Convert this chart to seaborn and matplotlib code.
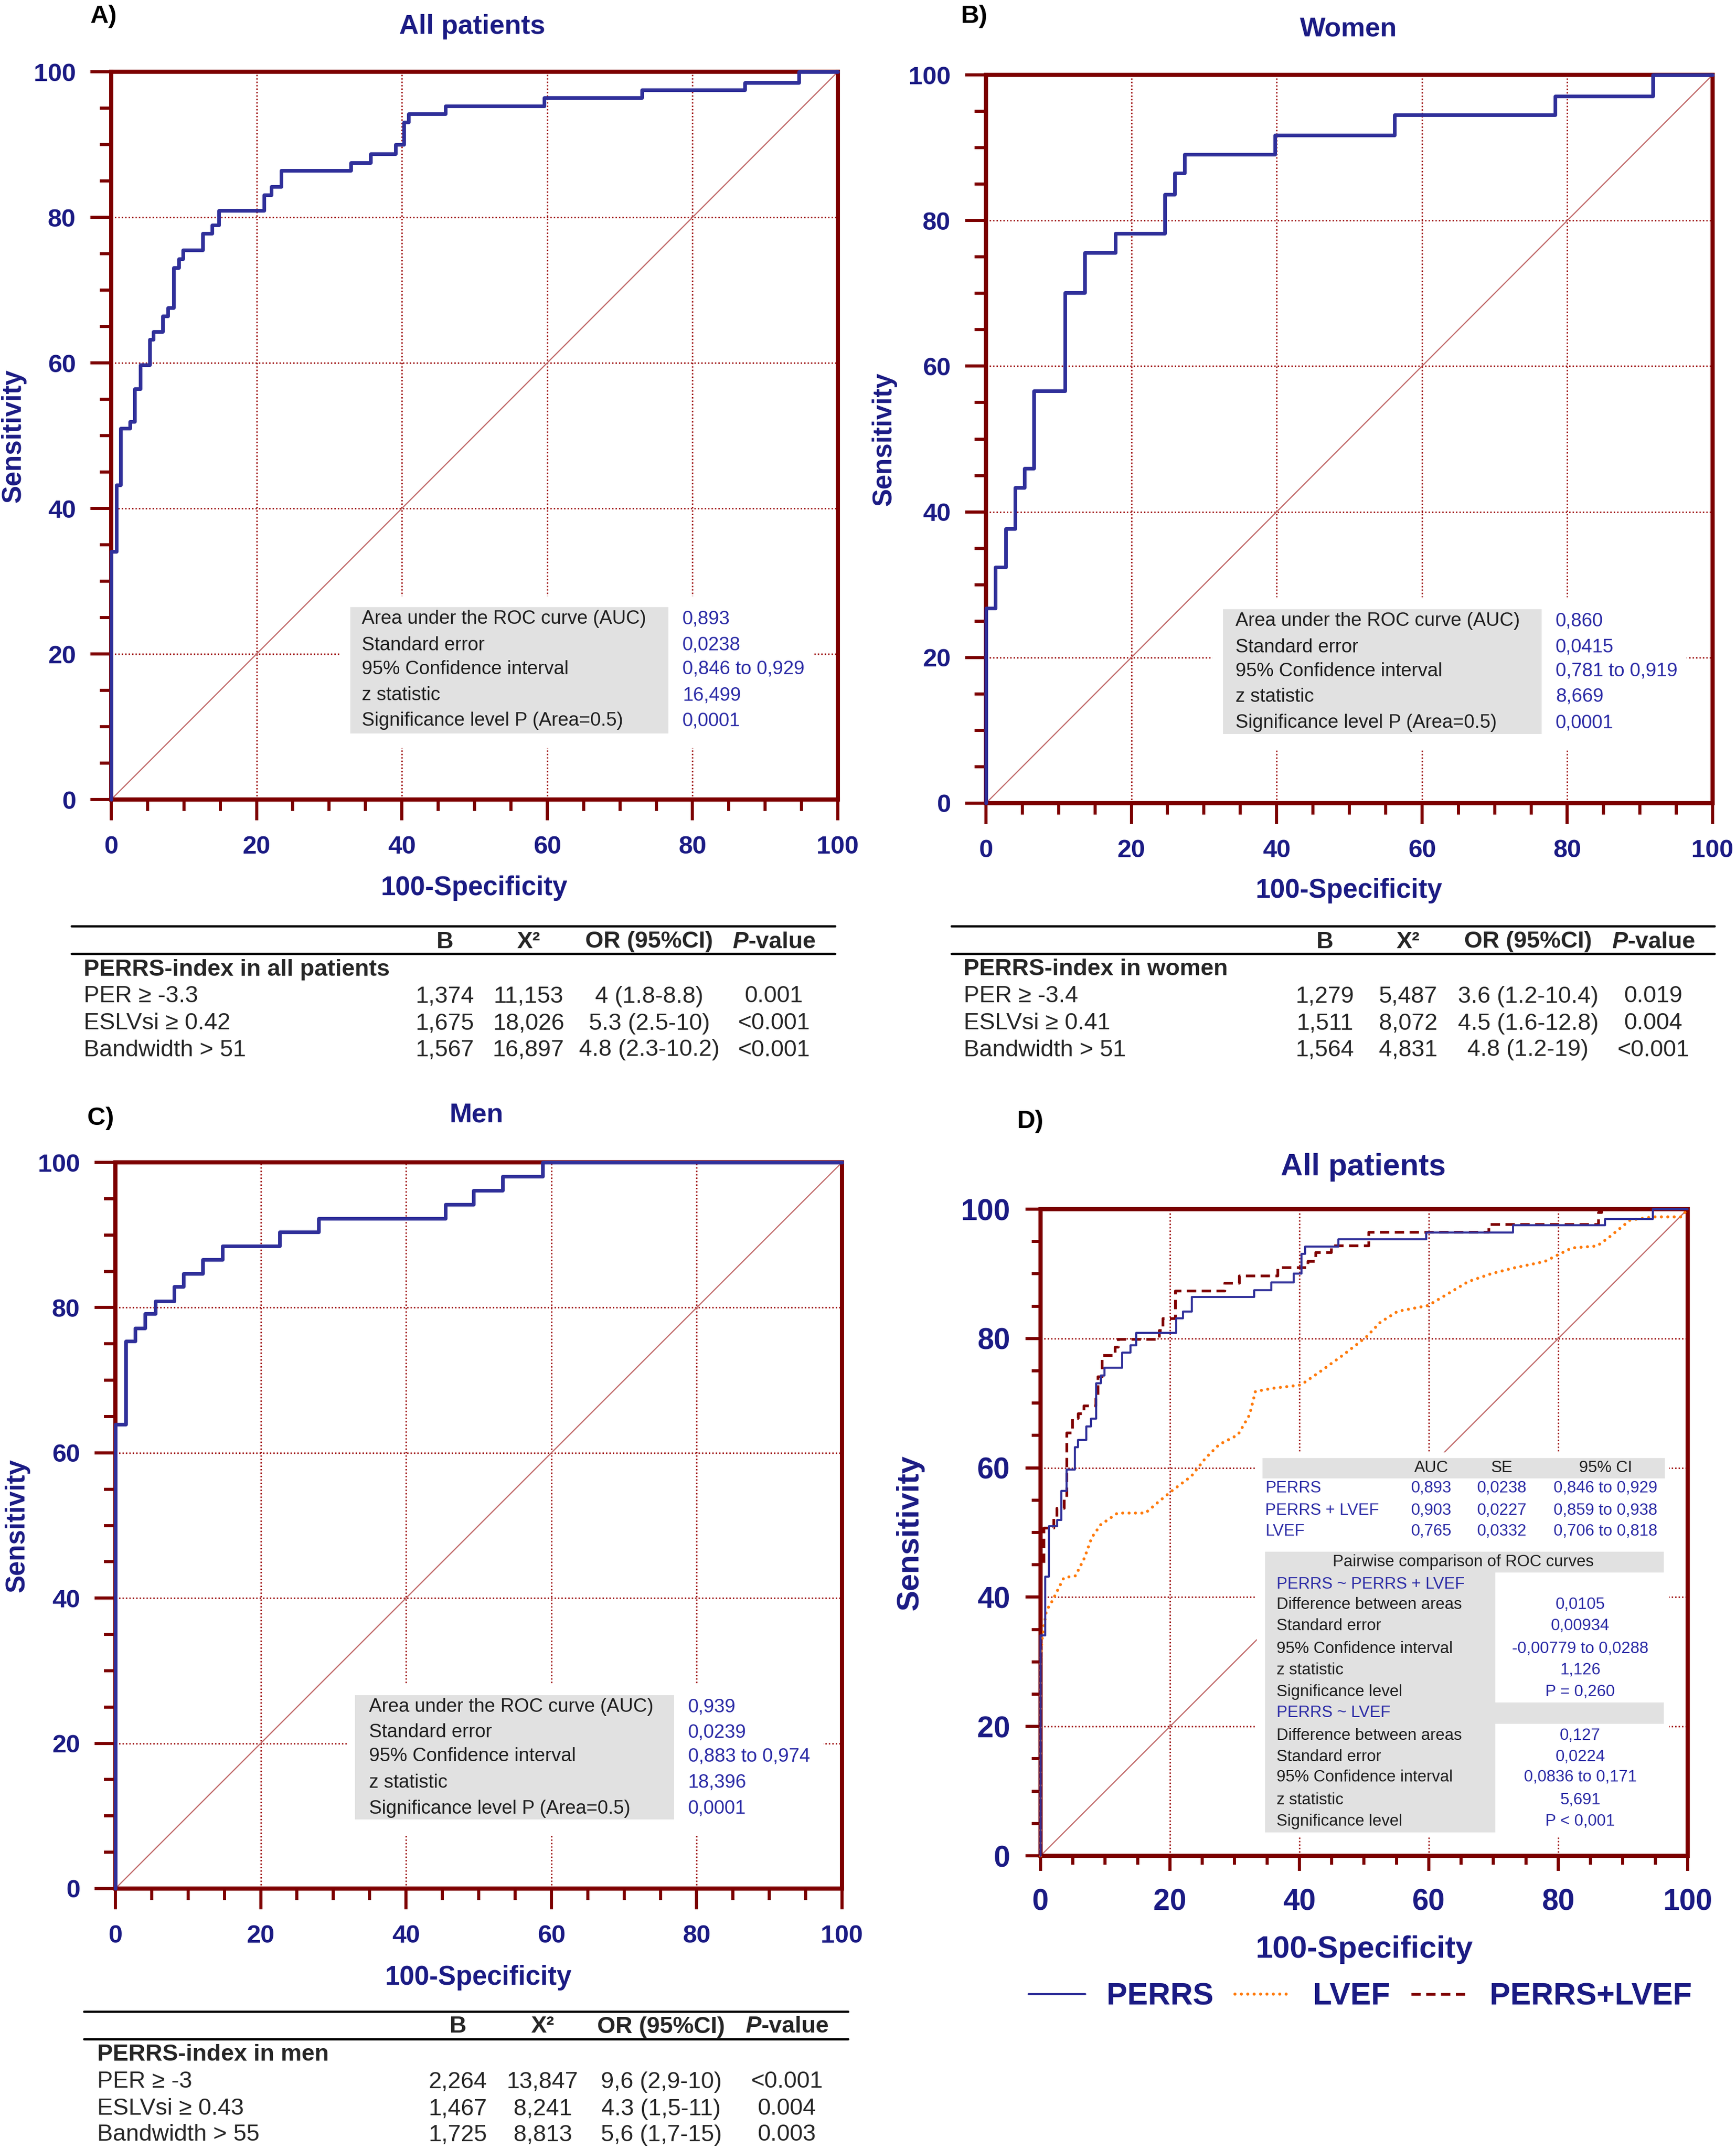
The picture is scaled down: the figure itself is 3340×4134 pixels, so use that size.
import numpy as np
import pandas as pd
import matplotlib
matplotlib.use("Agg")
import matplotlib.pyplot as plt
import seaborn as sns
from matplotlib.patches import Rectangle
from matplotlib.lines import Line2D

# ---------------- data ----------------
ticks_major = [0, 20, 40, 60, 80, 100]
ticks_minor = [0, 5, 10, 15, 20, 25, 30, 35, 40, 45, 50, 55, 60, 65, 70, 75, 80, 85, 90, 95, 100]
chance = [0, 100]

# Panel A - all patients, PERRS ROC (100-Specificity, Sensitivity) step corners
a_fpr = [0, 0, 0.7, 1.3, 2.6, 3.2, 4.0, 5.3, 5.8, 7.1, 7.8, 8.6, 9.3, 9.9, 12.6, 13.9, 14.8,
         21.0, 22.0, 23.4, 33.0, 35.7, 39.1, 40.3, 40.9, 46.0, 59.6, 73.0, 87.2, 94.6, 100]
a_tpr = [0, 34.1, 43.2, 51.0, 51.9, 56.4, 59.7, 63.2, 64.3, 66.4, 67.6, 73.1, 74.3, 75.5, 77.8, 78.9, 80.9,
         83.1, 84.2, 86.4, 87.5, 88.7, 90.0, 93.1, 94.2, 95.3, 96.4, 97.5, 98.5, 100, 100]

# Panel B - women
b_fpr = [0, 0, 1.3, 2.7, 4.0, 5.3, 6.6, 10.9, 13.6, 17.8, 24.6, 26.0, 27.3, 39.8, 56.2, 78.3, 91.8, 100]
b_tpr = [0, 26.8, 32.4, 37.7, 43.3, 46.0, 56.6, 70.1, 75.6, 78.2, 83.6, 86.5, 89.1, 91.7, 94.5, 97.1, 100, 100]

# Panel C - men
c_fpr = [0, 0, 1.4, 2.7, 4.1, 5.5, 8.1, 9.4, 12.0, 14.7, 22.6, 28.0, 45.4, 49.3, 53.3, 58.8, 100]
c_tpr = [0, 63.9, 75.4, 77.2, 79.2, 80.9, 82.9, 84.7, 86.6, 88.5, 90.4, 92.3, 94.2, 96.1, 98.1, 100, 100]

# Panel D - PERRS (same as A), PERRS+LVEF, LVEF
d_combo_fpr = [0, 0, 0.5, 2.0, 2.5, 3.6, 4.0, 4.9, 5.8, 6.7, 8.5, 8.8, 9.5, 11.5, 12.0, 18.3, 18.9,
               20.8, 28.4, 30.7, 36.6, 41.3, 42.5, 44.9, 50.7, 69.2, 86.2, 86.7, 100]
d_combo_tpr = [0, 45.0, 50.7, 52.3, 53.8, 55.3, 65.4, 67.7, 68.4, 69.6, 70.7, 74.1, 77.4, 78.7, 79.9, 81.3, 83.1,
               87.4, 88.6, 89.7, 91.0, 92.0, 93.3, 94.4, 96.5, 97.7, 99.5, 100, 100]
d_lvef_fpr = [0, 0, 0.2, 0.9, 1.8, 3.6, 5.4, 6.8, 7.9, 9.3, 11.9, 16.2, 18.3, 20.5, 23.3, 25.5, 27.6,
              30.5, 32.3, 33.2, 35.9, 40.2, 43.1, 46.7, 50.3, 52.5, 55.2, 59.9, 63.1, 66.1, 69.6, 73.1,
              77.9, 80.3, 82.1, 86.0, 87.8, 91.1, 94.6, 99.0, 100]
d_lvef_tpr = [0, 30.0, 33.3, 37.9, 39.4, 43.0, 43.3, 46.1, 49.2, 51.2, 53.0, 53.0, 54.8, 56.6, 58.7, 61.5, 63.6,
              65.1, 68.2, 71.8, 72.3, 72.8, 74.8, 77.4, 80.2, 82.5, 84.2, 85.1, 87.0, 88.8, 90.0, 90.9,
              91.9, 93.1, 94.0, 94.3, 95.6, 98.3, 98.8, 98.8, 100]
d_legend = ["PERRS", "LVEF", "PERRS+LVEF"]

panel_titles = ["All patients", "Women", "Men", "All patients"]
panel_letters = ["A)", "B)", "C)", "D)"]
x_label = "100-Specificity"
y_label = "Sensitivity"

info_labels = ["Area under the ROC curve (AUC)", "Standard error", "95% Confidence interval",
               "z statistic", "Significance level P (Area=0.5)"]
a_info = ["0,893", "0,0238", "0,846 to 0,929", "16,499", "0,0001"]
b_info = ["0,860", "0,0415", "0,781 to 0,919", "8,669", "0,0001"]
c_info = ["0,939", "0,0239", "0,883 to 0,974", "18,396", "0,0001"]

d_head = ["AUC", "SE", "95% CI"]
d_rows = ["PERRS", "PERRS + LVEF", "LVEF"]
d_auc = ["0,893", "0,903", "0,765"]
d_se = ["0,0238", "0,0227", "0,0332"]
d_ci = ["0,846 to 0,929", "0,859 to 0,938", "0,706 to 0,818"]
d_pw_title = "Pairwise comparison of ROC curves"
d_pw_labels = ["PERRS ~ PERRS + LVEF", "Difference between areas", "Standard error",
               "95% Confidence interval", "z statistic", "Significance level",
               "PERRS ~ LVEF", "Difference between areas", "Standard error",
               "95% Confidence interval", "z statistic", "Significance level"]
d_pw_values = ["", "0,0105", "0,00934", "-0,00779 to 0,0288", "1,126", "P = 0,260",
               "", "0,127", "0,0224", "0,0836 to 0,171", "5,691", "P < 0,001"]

table_cols = ["B", "X²", "OR (95%CI)", "P-value"]
a_tab_title = "PERRS-index in all patients"
a_tab_rows = ["PER ≥ -3.3", "ESLVsi ≥ 0.42", "Bandwidth > 51"]
a_tab_B = ["1,374", "1,675", "1,567"]
a_tab_X2 = ["11,153", "18,026", "16,897"]
a_tab_OR = ["4 (1.8-8.8)", "5.3 (2.5-10)", "4.8 (2.3-10.2)"]
a_tab_P = ["0.001", "<0.001", "<0.001"]

b_tab_title = "PERRS-index in women"
b_tab_rows = ["PER ≥ -3.4", "ESLVsi ≥ 0.41", "Bandwidth > 51"]
b_tab_B = ["1,279", "1,511", "1,564"]
b_tab_X2 = ["5,487", "8,072", "4,831"]
b_tab_OR = ["3.6 (1.2-10.4)", "4.5 (1.6-12.8)", "4.8 (1.2-19)"]
b_tab_P = ["0.019", "0.004", "<0.001"]

c_tab_title = "PERRS-index in men"
c_tab_rows = ["PER ≥ -3", "ESLVsi ≥ 0.43", "Bandwidth > 55"]
c_tab_B = ["2,264", "1,467", "1,725"]
c_tab_X2 = ["13,847", "8,241", "8,813"]
c_tab_OR = ["9,6 (2,9-10)", "4.3 (1,5-11)", "5,6 (1,7-15)"]
c_tab_P = ["<0.001", "0.004", "0.003"]

# ---------------- style ----------------
sns.set_style("white")
plt.rcParams["font.family"] = ["Liberation Sans", "DejaVu Sans"]

SPINE = "#7d0000"
GRID = "#980000"
NAVY = "#1b1b84"
BLUE = "#30309a"
VAL = "#2b2ba6"
GRAY = "#e1e1e1"
DIAG = "#c06868"
ORANGE = "#ff7a0a"
DRED = "#800000"
TXT = "#1e1e1e"

W, H = 3341, 4134
fig = plt.figure(figsize=(W / 100, H / 100), dpi=100)
fig.patch.set_facecolor("white")


def fx(px):
    return px / W


def fy(py):
    return 1 - py / H


def make_ax(l, t, r, b):
    return fig.add_axes([fx(l), fy(b), (r - l) / W, (b - t) / H])


def setup_axes(ax, tick_fs, maj, mnr, padx, pady):
    ax.set_xlim(0, 100)
    ax.set_ylim(0, 100)
    labs = [str(t) for t in ticks_major]
    ax.set_xticks(ticks_major, labels=labs, fontsize=tick_fs, fontweight="bold", color=NAVY)
    ax.set_yticks(ticks_major, labels=labs, fontsize=tick_fs, fontweight="bold", color=NAVY)
    ax.set_xticks(ticks_minor, minor=True)
    ax.set_yticks(ticks_minor, minor=True)
    ax.tick_params(which="both", direction="out", color=SPINE, width=4.3,
                   bottom=True, left=True, top=False, right=False)
    ax.tick_params(which="major", length=maj)
    ax.tick_params(which="minor", length=mnr)
    ax.tick_params(axis="x", which="major", pad=padx)
    ax.tick_params(axis="y", which="major", pad=pady)
    for s in ax.spines.values():
        s.set_visible(True)
        s.set_color(SPINE)
        s.set_linewidth(5.8)
        s.set_zorder(6)
    ax.set_axisbelow(True)
    ax.grid(True, which="major", color=GRID, linestyle=(0, (1, 1.5)), linewidth=1.9)
    ax.grid(False, which="minor")
    ax.set_facecolor("white")


def labels_and_title(ax, title, fs_lab, fs_title, ylx, xly, tx, ty):
    ax.set_xlabel(x_label, fontsize=fs_lab, fontweight="bold", color=NAVY, va="center")
    ax.xaxis.set_label_coords(0.5, xly)
    ax.set_ylabel(y_label, fontsize=fs_lab, fontweight="bold", color=NAVY, va="center")
    ax.yaxis.set_label_coords(ylx, 0.5)
    ax.text(tx, ty, title, transform=ax.transAxes, ha="center", va="center",
            fontsize=fs_title, fontweight="bold", color=NAVY)


def info_box(ax, white, gray, lx, vx, rows_y, labels, values, fs=26.5):
    ax.add_patch(Rectangle((white[0], white[2]), white[1] - white[0], white[3] - white[2],
                           facecolor="white", edgecolor="none", zorder=2.5))
    ax.add_patch(Rectangle((gray[0], gray[2]), gray[1] - gray[0], gray[3] - gray[2],
                           facecolor=GRAY, edgecolor="none", zorder=2.6))
    for y, lab, val in zip(rows_y, labels, values):
        ax.text(lx, y, lab, fontsize=fs, color=TXT, ha="left", va="center", zorder=4)
        ax.text(vx, y, val, fontsize=fs, color=VAL, ha="left", va="center", zorder=4)


def roc_panel(ax, fpr, tpr):
    sns.lineplot(x=chance, y=chance, color=DIAG, linewidth=1.6, ax=ax, zorder=2)
    sns.lineplot(x=fpr, y=tpr, estimator=None, sort=False, drawstyle="steps-post",
                 color=BLUE, linewidth=5, ax=ax, zorder=7, clip_on=False)


def stats_table(x0, x1, y_top, y_mid, y_head, y_title, rows_y, text_x, col_x,
                title, rows, Bv, X2v, ORv, Pv, fs=32.5):
    for y in (y_top, y_mid):
        fig.add_artist(Line2D([fx(x0), fx(x1)], [fy(y), fy(y)], color="black",
                              linewidth=3.2, transform=fig.transFigure))
    cB, cX, cO, cP = col_x
    for c, t in zip((cB, cX, cO), table_cols[:3]):
        fig.text(fx(c), fy(y_head), t, ha="center", va="center", fontsize=fs, fontweight="bold")
    fig.text(fx(cP - 80), fy(y_head), table_cols[3][0], ha="left", va="center", fontsize=fs,
             fontweight="bold", fontstyle="italic")
    fig.text(fx(cP - 50), fy(y_head), table_cols[3][1:], ha="left", va="center", fontsize=fs,
             fontweight="bold")
    fig.text(fx(text_x), fy(y_title), title, ha="left", va="center", fontsize=fs, fontweight="bold")
    for y, lab, b, x2, o, p in zip(rows_y, rows, Bv, X2v, ORv, Pv):
        fig.text(fx(text_x), fy(y), lab, ha="left", va="center", fontsize=fs)
        fig.text(fx(cB), fy(y), b, ha="center", va="center", fontsize=fs)
        fig.text(fx(cX), fy(y), x2, ha="center", va="center", fontsize=fs)
        fig.text(fx(cO), fy(y), o, ha="center", va="center", fontsize=fs)
        fig.text(fx(cP), fy(y), p, ha="center", va="center", fontsize=fs)


# ---------------- Panel A ----------------
ax_a = make_ax(214, 138, 1612, 1538)
roc_panel(ax_a, a_fpr, a_tpr)
setup_axes(ax_a, 35, 29, 16, 21, 20)
labels_and_title(ax_a, panel_titles[0], 37, 37.5, -0.1345, -0.1215, 0.497, 1.062)
info_box(ax_a, (31.4, 96.8, 7.1, 27.9), (32.9, 76.7, 9.1, 26.4), 34.5, 78.6,
         [24.8, 21.2, 17.9, 14.3, 10.8], info_labels, a_info)

# ---------------- Panel B ----------------
ax_b = make_ax(1897, 144, 3295, 1545)
roc_panel(ax_b, b_fpr, b_tpr)
setup_axes(ax_b, 35, 29, 16, 21, 20)
labels_and_title(ax_b, panel_titles[1], 37, 37.5, -0.140, -0.12, 0.4986, 1.063)
info_box(ax_b, (31.2, 96.4, 7.3, 28.3), (32.6, 76.5, 9.5, 26.6), 34.3, 78.4,
         [25.0, 21.4, 18.1, 14.6, 11.0], info_labels, b_info)

# ---------------- Panel C ----------------
ax_c = make_ax(222, 2236, 1620, 3633)
roc_panel(ax_c, c_fpr, c_tpr)
setup_axes(ax_c, 35, 29, 16, 21, 20)
labels_and_title(ax_c, panel_titles[2], 37, 37.5, -0.135, -0.1225, 0.497, 1.065)
info_box(ax_c, (31.9, 97.4, 7.3, 28.3), (33.0, 76.9, 9.5, 26.6), 34.9, 78.8,
         [25.0, 21.5, 18.2, 14.6, 11.0], info_labels, c_info)

# ---------------- Panel D ----------------
ax_d = make_ax(2002, 2326, 3247, 3570)
sns.lineplot(x=chance, y=chance, color=DIAG, linewidth=1.6, ax=ax_d, zorder=2)
sns.lineplot(x=d_lvef_fpr, y=d_lvef_tpr, estimator=None, sort=False, color=ORANGE,
             linewidth=4.2, linestyle=(0, (0.01, 2.1)), dash_capstyle="round",
             ax=ax_d, zorder=7, clip_on=False, label=d_legend[1])
sns.lineplot(x=d_combo_fpr, y=d_combo_tpr, estimator=None, sort=False, drawstyle="steps-post",
             color=DRED, linewidth=3.8, linestyle=(0, (3.4, 2.0)), ax=ax_d, zorder=7.2,
             clip_on=False, label=d_legend[2])
sns.lineplot(x=a_fpr, y=a_tpr, estimator=None, sort=False, drawstyle="steps-post",
             color=BLUE, linewidth=2.8, ax=ax_d, zorder=7.4, clip_on=False, label=d_legend[0])
setup_axes(ax_d, 41, 21, 12, 24, 21)
labels_and_title(ax_d, panel_titles[3], 43, 42.5, -0.2016, -0.145, 0.499, 1.065)

# tables inside D
ax_d.add_patch(Rectangle((33.4, 3.1), 97.1 - 33.4, 62.4 - 3.1, facecolor="white",
                         edgecolor="none", zorder=2.5))
ax_d.add_patch(Rectangle((34.3, 58.4), 96.5 - 34.3, 61.5 - 58.4, facecolor=GRAY,
                         edgecolor="none", zorder=2.6))
dfs = 22.5
for cx, t in zip((60.4, 71.3, 87.3), d_head):
    ax_d.text(cx, 60.0, t, ha="center", va="center", fontsize=dfs, color=TXT, zorder=4)
for y, lab, a1, s1, c1 in zip((56.8, 53.4, 50.2), d_rows, d_auc, d_se, d_ci):
    ax_d.text(34.7, y, lab, ha="left", va="center", fontsize=dfs, color=VAL, zorder=4)
    ax_d.text(60.4, y, a1, ha="center", va="center", fontsize=dfs, color=VAL, zorder=4)
    ax_d.text(71.3, y, s1, ha="center", va="center", fontsize=dfs, color=VAL, zorder=4)
    ax_d.text(87.3, y, c1, ha="center", va="center", fontsize=dfs, color=VAL, zorder=4)
ax_d.add_patch(Rectangle((34.7, 43.8), 96.3 - 34.7, 47.0 - 43.8, facecolor=GRAY,
                         edgecolor="none", zorder=2.6))
ax_d.add_patch(Rectangle((34.7, 3.6), 70.3 - 34.7, 43.8 - 3.6, facecolor=GRAY,
                         edgecolor="none", zorder=2.6))
ax_d.add_patch(Rectangle((70.3, 20.4), 96.3 - 70.3, 23.7 - 20.4, facecolor=GRAY,
                         edgecolor="none", zorder=2.6))
ax_d.text(65.3, 45.4, d_pw_title, ha="center", va="center", fontsize=dfs, color=TXT, zorder=4)
pw_y = [42.0, 38.8, 35.5, 32.0, 28.7, 25.3, 22.1, 18.6, 15.3, 12.1, 8.6, 5.3]
for y, lab, val in zip(pw_y, d_pw_labels, d_pw_values):
    col = VAL if "~" in lab else TXT
    ax_d.text(36.5, y, lab, ha="left", va="center", fontsize=dfs, color=col, zorder=4)
    if val:
        ax_d.text(83.4, y, val, ha="center", va="center", fontsize=dfs, color=VAL, zorder=4)

handles = {l.get_label(): l for l in ax_d.get_lines()}
ax_d.legend(handles=[handles[k] for k in d_legend], labels=d_legend, ncol=3,
            loc="center left", bbox_to_anchor=(-0.0185, -0.2178), frameon=False,
            prop={"size": 43, "weight": "bold"}, labelcolor=NAVY,
            handlelength=1.82, handletextpad=0.7, columnspacing=0.68,
            borderpad=0, borderaxespad=0)

# ---------------- panel letters ----------------
for (px, py), letter in zip([(174, 31), (1849, 31), (168, 2152), (1957, 2157)], panel_letters):
    fig.text(fx(px), fy(py), letter, ha="left", va="center", fontsize=35, fontweight="bold",
             color="black")

# ---------------- tables below panels ----------------
stats_table(138, 1607, 1782, 1835, 1812, 1865, [1917, 1969, 2020], 161,
            (856, 1017, 1249, 1489), a_tab_title, a_tab_rows, a_tab_B, a_tab_X2, a_tab_OR, a_tab_P)
stats_table(1831, 3299, 1782, 1835, 1812, 1865, [1917, 1969, 2020], 1854,
            (2549, 2709, 2940, 3181), b_tab_title, b_tab_rows, b_tab_B, b_tab_X2, b_tab_OR, b_tab_P)
stats_table(162, 1632, 3870, 3923, 3899, 3952, [4005, 4057, 4107], 187,
            (881, 1044, 1272, 1514), c_tab_title, c_tab_rows, c_tab_B, c_tab_X2, c_tab_OR, c_tab_P)

fig.savefig("out.png", dpi=100, facecolor="white")
